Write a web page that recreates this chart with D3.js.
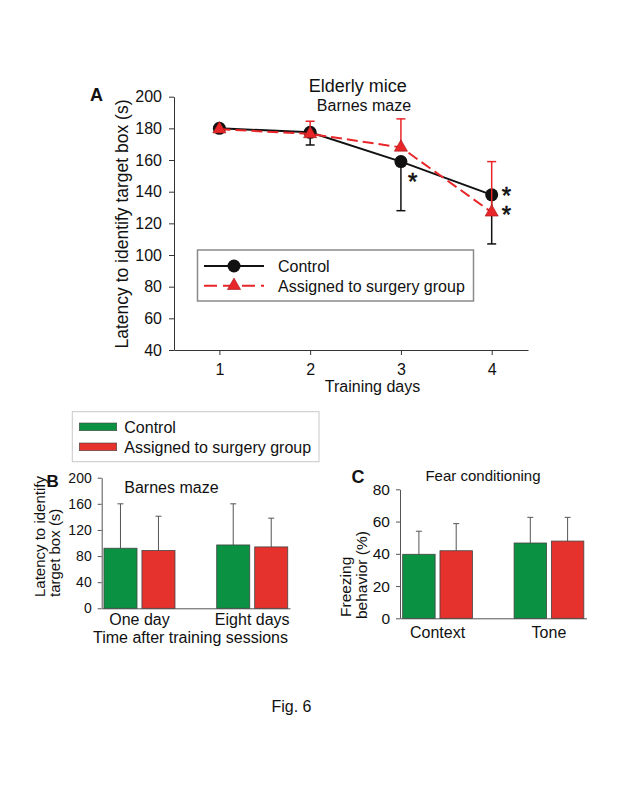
<!DOCTYPE html>
<html><head><meta charset="utf-8">
<script src="https://cdn.jsdelivr.net/npm/d3@7"></script>
<style>
html,body{margin:0;padding:0;background:#fff;}
svg{display:block;font-family:Arial,"Liberation Sans",sans-serif;}
</style></head>
<body>
<svg id="chart" width="617" height="798"></svg>
<script>
// ---------- Data ----------
// Panel A
const daysA = [1, 2, 3, 4];
const yTicksA = [40, 60, 80, 100, 120, 140, 160, 180, 200];
const controlA = [180, 177.5, 159, 138];
const controlAErrLow = [0, 8, 31, 31];
const surgeryA = [179.5, 176.5, 168, 127];
const surgeryAErrHigh = [0, 8, 18, 32];
const seriesNames = ["Control", "Assigned to surgery group"];

// Panel B
const groupsB = ["One day", "Eight days"];
const yTicksB = [0, 40, 80, 120, 160, 200];
const controlB = [92, 97];
const controlBErr = [68, 63];
const surgeryB = [88.5, 94];
const surgeryBErr = [52.5, 44];

// Panel C
const groupsC = ["Context", "Tone"];
const yTicksC = [0, 20, 40, 60, 80];
const controlC = [39.7, 46.7];
const controlCErr = [14.3, 15.9];
const surgeryC = [41.9, 47.9];
const surgeryCErr = [16.8, 14.7];

// ---------- Styles ----------
const GREEN = "#0b9142";
const RED = "#e5322d";
const RED_LINE = "#e8262a";

const svg = d3.select("#chart");

// ================= Panel A =================
const xA = d3.scaleLinear().domain([0.5, 4.4]).range([174, 528]);
const yA = d3.scaleLinear().domain([40, 200]).range([350, 96.7]);
const gA = svg.append("g");

const axA_y = gA.append("g").attr("transform", `translate(${xA(0.5)},0)`)
  .call(d3.axisLeft(yA).tickValues(yTicksA).tickSize(5).tickPadding(7).tickSizeOuter(0));
const axA_x = gA.append("g").attr("transform", `translate(0,${yA(40)})`)
  .call(d3.axisBottom(xA).tickValues(daysA).tickFormat(d3.format("d")).tickSize(5).tickPadding(9).tickSizeOuter(0));
[axA_y, axA_x].forEach(a => {
  a.selectAll("path,line").attr("stroke", "#333").attr("stroke-width", 1);
  a.selectAll("text").attr("font-size", 16).attr("fill", "#111").attr("font-family", "Arial, Liberation Sans, sans-serif");
});

gA.append("text").attr("transform", "translate(128,224) rotate(-90)")
  .attr("text-anchor", "middle").attr("font-size", 17.5).attr("fill", "#111")
  .text("Latency to identify target box (s)");
gA.append("text").attr("x", 372.5).attr("y", 392).attr("text-anchor", "middle")
  .attr("font-size", 16).attr("fill", "#111").text("Training days");
gA.append("text").attr("x", 357.7).attr("y", 92).attr("text-anchor", "middle")
  .attr("font-size", 18).attr("fill", "#111").text("Elderly mice");
gA.append("text").attr("x", 364).attr("y", 110.5).attr("text-anchor", "middle")
  .attr("font-size", 16).attr("fill", "#111").text("Barnes maze");
gA.append("text").attr("x", 90).attr("y", 101).attr("font-size", 18)
  .attr("font-weight", "bold").attr("fill", "#111").text("A");

// error bars: control lower (black), surgery upper (red)
const capW = 4.5;
daysA.forEach((d, i) => {
  if (controlAErrLow[i] > 0) {
    const x = xA(d), y0 = yA(controlA[i]), y1 = yA(controlA[i] - controlAErrLow[i]);
    gA.append("line").attr("x1", x).attr("x2", x).attr("y1", y0).attr("y2", y1).attr("stroke", "#111").attr("stroke-width", 1.5);
    gA.append("line").attr("x1", x - capW).attr("x2", x + capW).attr("y1", y1).attr("y2", y1).attr("stroke", "#111").attr("stroke-width", 1.5);
  }
});
const lineA = d3.line().x((v, i) => xA(daysA[i])).y(v => yA(v));
gA.append("path").datum(controlA).attr("d", lineA).attr("fill", "none")
  .attr("stroke", "#111").attr("stroke-width", 2);
gA.selectAll(".cdot").data(controlA).enter().append("circle")
  .attr("cx", (v, i) => xA(daysA[i])).attr("cy", v => yA(v)).attr("r", 6.5).attr("fill", "#111");

daysA.forEach((d, i) => {
  if (surgeryAErrHigh[i] > 0) {
    const x = xA(d), y0 = yA(surgeryA[i]), y1 = yA(surgeryA[i] + surgeryAErrHigh[i]);
    gA.append("line").attr("x1", x).attr("x2", x).attr("y1", y0).attr("y2", y1).attr("stroke", RED_LINE).attr("stroke-width", 1.5);
    gA.append("line").attr("x1", x - capW).attr("x2", x + capW).attr("y1", y1).attr("y2", y1).attr("stroke", RED_LINE).attr("stroke-width", 1.5);
  }
});
gA.append("path").datum(surgeryA).attr("d", lineA).attr("fill", "none")
  .attr("stroke", RED_LINE).attr("stroke-width", 2).attr("stroke-dasharray", "11,5");
const tri = d3.symbol().type(d3.symbolTriangle).size(75);
gA.selectAll(".sdot").data(surgeryA).enter().append("path")
  .attr("d", tri).attr("transform", (v, i) => `translate(${xA(daysA[i])},${yA(v)})`)
  .attr("fill", RED_LINE).attr("stroke", "#a01818").attr("stroke-width", 0.6);

// asterisks (offsets from the marked point)
[[3, controlA[2], 7, 28], [4, controlA[3], 10, 9], [4, surgeryA[3], 10, 11]].forEach(([d, v, dx, dy]) => {
  gA.append("text").attr("x", xA(d) + dx).attr("y", yA(v) + dy)
    .attr("font-size", 24).attr("fill", "#111").attr("stroke", "#111").attr("stroke-width", 0.6).text("*");
});

// legend A
const legA = gA.append("g");
legA.append("rect").attr("x", 197.5).attr("y", 250).attr("width", 276).attr("height", 51)
  .attr("fill", "#fff").attr("stroke", "#8a8a8a").attr("stroke-width", 1.5);
legA.append("line").attr("x1", 204).attr("x2", 264).attr("y1", 266).attr("y2", 266).attr("stroke", "#111").attr("stroke-width", 2);
legA.append("circle").attr("cx", 234).attr("cy", 266).attr("r", 6.5).attr("fill", "#111");
legA.append("line").attr("x1", 204).attr("x2", 264).attr("y1", 285.7).attr("y2", 285.7).attr("stroke", RED_LINE).attr("stroke-width", 2).attr("stroke-dasharray", "13,6");
legA.append("path").attr("d", tri).attr("transform", "translate(234,285.7)").attr("fill", RED_LINE).attr("stroke", "#a01818").attr("stroke-width", 0.6);
legA.append("text").attr("x", 278).attr("y", 272).attr("font-size", 16).attr("fill", "#111").text(seriesNames[0]);
legA.append("text").attr("x", 278).attr("y", 291.5).attr("font-size", 16).attr("fill", "#111").text(seriesNames[1]);

// ================= Bar panel helper =================
function barPanel(opts) {
  const g = svg.append("g");
  const x0 = d3.scaleBand().domain(opts.groups).range(opts.xRange).paddingInner(opts.padIn).paddingOuter(opts.padOut);
  const x1 = d3.scaleBand().domain([0, 1]).range([0, x0.bandwidth()]).paddingInner(0.13).paddingOuter(0);
  const y = d3.scaleLinear().domain(opts.yDomain).range(opts.yRange);
  const ay = g.append("g").attr("transform", `translate(${opts.xRange[0]},0)`)
    .call(d3.axisLeft(y).tickValues(opts.yTicks).tickSize(4).tickPadding(opts.tickPad).tickSizeOuter(0));
  const ax = g.append("g").attr("transform", `translate(0,${opts.yRange[0]})`)
    .call(d3.axisBottom(x0).tickSize(0).tickPadding(opts.xPad));
  [ay, ax].forEach(a => {
    a.selectAll("path,line").attr("stroke", "#555").attr("stroke-width", 1);
    a.selectAll("text").attr("fill", "#111").attr("font-family", "Arial, Liberation Sans, sans-serif");
  });
  ay.selectAll("text").attr("font-size", opts.yTickFont);
  ax.selectAll("text").attr("font-size", 16);
  const series = [
    {vals: opts.control, errs: opts.controlErr, color: GREEN},
    {vals: opts.surgery, errs: opts.surgeryErr, color: RED}
  ];
  series.forEach((s, si) => {
    opts.groups.forEach((grp, gi) => {
      const bx = x0(grp) + x1(si), bw = x1.bandwidth();
      const cx = bx + bw / 2;
      const top = y(s.vals[gi] + s.errs[gi]);
      g.append("line").attr("x1", cx).attr("x2", cx).attr("y1", y(s.vals[gi])).attr("y2", top).attr("stroke", "#555").attr("stroke-width", 1);
      g.append("line").attr("x1", cx - 3).attr("x2", cx + 3).attr("y1", top).attr("y2", top).attr("stroke", "#555").attr("stroke-width", 1);
      g.append("rect").attr("x", bx).attr("y", y(s.vals[gi])).attr("width", bw)
        .attr("height", y(0) - y(s.vals[gi])).attr("fill", s.color).attr("stroke", "#444").attr("stroke-width", 0.8);
    });
  });
  return g;
}

// ================= Panel B =================
const gB = barPanel({
  groups: groupsB, xRange: [101.7, 290], padIn: 0.37, padOut: 0.02,
  yDomain: [0, 200], yRange: [608.3, 477.7], yTicks: yTicksB, tickPad: 6, yTickFont: 14, xPad: 5,
  control: controlB, controlErr: controlBErr, surgery: surgeryB, surgeryErr: surgeryBErr
});
gB.append("text").attr("x", 124.3).attr("y", 493).attr("font-size", 16).attr("fill", "#111").text("Barnes maze");
gB.append("text").attr("x", 46.5).attr("y", 487).attr("font-size", 17).attr("font-weight", "bold").attr("fill", "#111").text("B");
gB.append("text").attr("transform", "translate(45,597) rotate(-90)").attr("text-anchor", "start")
  .attr("font-size", 15).attr("fill", "#111").text("Latency to identify");
gB.append("text").attr("transform", "translate(60,597) rotate(-90)").attr("text-anchor", "start")
  .attr("font-size", 15).attr("fill", "#111").text("target box (s)");
gB.append("text").attr("x", 190.5).attr("y", 643).attr("text-anchor", "middle")
  .attr("font-size", 16).attr("fill", "#111").text("Time after training sessions");

// legend B
const legB = svg.append("g");
legB.append("rect").attr("x", 72.3).attr("y", 411.7).attr("width", 246.7).attr("height", 50)
  .attr("fill", "#fff").attr("stroke", "#c8c8c8").attr("stroke-width", 1);
legB.append("rect").attr("x", 79.3).attr("y", 423).attr("width", 37.4).attr("height", 7.7).attr("fill", GREEN).attr("stroke", "#444").attr("stroke-width", 0.6);
legB.append("rect").attr("x", 79.3).attr("y", 443).attr("width", 37.4).attr("height", 7.7).attr("fill", RED).attr("stroke", "#444").attr("stroke-width", 0.6);
legB.append("text").attr("x", 124.3).attr("y", 432.5).attr("font-size", 16).attr("fill", "#111").text(seriesNames[0]);
legB.append("text").attr("x", 124.3).attr("y", 452.5).attr("font-size", 16).attr("fill", "#111").text(seriesNames[1]);

// ================= Panel C =================
const gC = barPanel({
  groups: groupsC, xRange: [400, 586.5], padIn: 0.374, padOut: 0.024,
  yDomain: [0, 80], yRange: [618.3, 489.3], yTicks: yTicksC, tickPad: 6, yTickFont: 15.5, xPad: 8,
  control: controlC, controlErr: controlCErr, surgery: surgeryC, surgeryErr: surgeryCErr
});
gC.append("text").attr("x", 483).attr("y", 480.5).attr("text-anchor", "middle").attr("font-size", 15).attr("fill", "#111").text("Fear conditioning");
gC.append("text").attr("x", 351.5).attr("y", 483).attr("font-size", 18).attr("font-weight", "bold").attr("fill", "#111").text("C");
gC.append("text").attr("transform", "translate(351,617) rotate(-90)").attr("text-anchor", "start")
  .attr("font-size", 15.5).attr("fill", "#111").text("Freezing");
gC.append("text").attr("transform", "translate(367,619) rotate(-90)").attr("text-anchor", "start")
  .attr("font-size", 15.5).attr("fill", "#111").text("behavior (%)");

// Figure caption
svg.append("text").attr("x", 291.5).attr("y", 712).attr("text-anchor", "middle")
  .attr("font-size", 16).attr("fill", "#111").text("Fig. 6");
</script>
</body></html>
